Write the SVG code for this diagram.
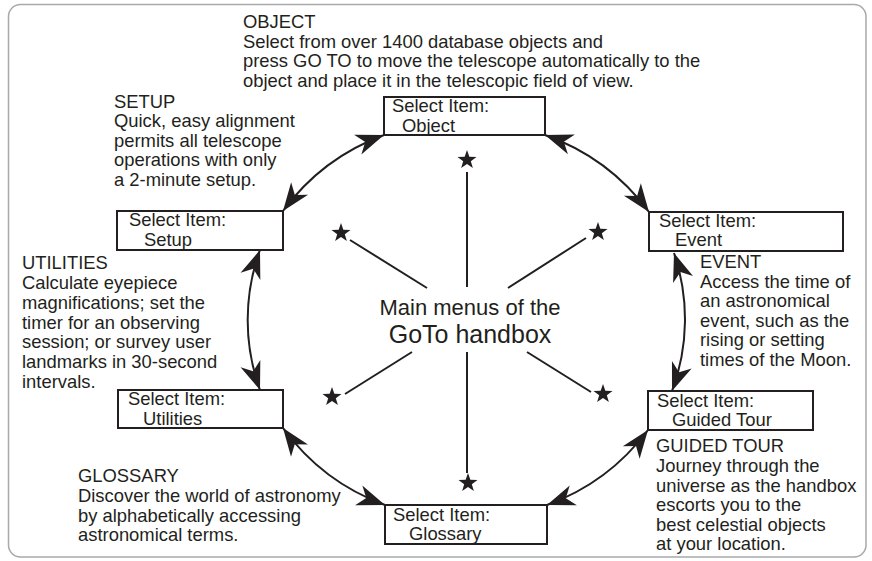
<svg xmlns="http://www.w3.org/2000/svg" width="872" height="561" viewBox="0 0 872 561">
<style>
text{font-family:"Liberation Sans",Arial,Helvetica,sans-serif;font-size:18.4px;fill:#231f20}
.box{fill:#fff;stroke:#231f20;stroke-width:2}
.arc{fill:none;stroke:#231f20;stroke-width:2;marker-start:url(#ah);marker-end:url(#ah)}
.spoke{stroke:#231f20;stroke-width:2}
.star{fill:#231f20}
</style>
<defs>
<marker id="ah" markerUnits="userSpaceOnUse" markerWidth="32" markerHeight="26" viewBox="-30 -13 32 26" refX="0" refY="0" orient="auto-start-reverse">
<path d="M0,0 L-28,-10.5 L-20,0 L-28,10.5 Z" fill="#231f20"/>
</marker>
<path id="st" d="M0,-10 L2.35,-3.24 L9.51,-3.09 L3.8,1.24 L5.88,8.09 L0,4 L-5.88,8.09 L-3.8,1.24 L-9.51,-3.09 L-2.35,-3.24 Z"/>
</defs>
<rect x="8.5" y="4.5" width="857.5" height="552.5" rx="12" fill="#fff" stroke="#a7a9ac" stroke-width="1.5"/>

<g id="connectors">
<path class="arc" d="M283,211 A220,220 0 0 1 384,135"/>
<path class="arc" d="M545,135 A220,220 0 0 1 649,212"/>
<path class="arc" d="M674,253 A205,205 0 0 1 672,391"/>
<path class="arc" d="M648,430 A220,220 0 0 1 547,505"/>
<path class="arc" d="M385,505 A220,220 0 0 1 283,428"/>
<path class="arc" d="M260,390 A205,205 0 0 1 260,250"/>
<line class="spoke" x1="467" y1="172" x2="467" y2="287"/>
<line class="spoke" x1="467" y1="352" x2="467" y2="473"/>
<line class="spoke" x1="350" y1="240" x2="427" y2="288"/>
<line class="spoke" x1="586" y1="238" x2="508" y2="288"/>
<line class="spoke" x1="412" y1="352" x2="345" y2="394"/>
<line class="spoke" x1="527" y1="352" x2="591" y2="392"/>
</g>

<g id="stars" class="star">
<use href="#st" x="467" y="160"/>
<use href="#st" x="341" y="233"/>
<use href="#st" x="598" y="232"/>
<use href="#st" x="332" y="397"/>
<use href="#st" x="603" y="394"/>
<use href="#st" x="468" y="483"/>
</g>

<g id="center">
<text x="470" y="315" text-anchor="middle" style="font-size:22px">Main menus of the</text>
<text x="470" y="343" text-anchor="middle" style="font-size:25px">GoTo handbox</text>
</g>

<g id="node-object">
<rect class="box" x="384" y="97" width="161" height="38"/>
<text x="392" y="112">Select Item:</text>
<text x="402" y="132">Object</text>
</g>
<g id="node-event">
<rect class="box" x="649" y="212" width="194" height="39"/>
<text x="659" y="227">Select Item:</text>
<text x="675" y="246">Event</text>
</g>
<g id="node-setup">
<rect class="box" x="117" y="211" width="166" height="39"/>
<text x="129" y="226">Select Item:</text>
<text x="144" y="246">Setup</text>
</g>
<g id="node-utilities">
<rect class="box" x="118" y="390" width="165" height="38"/>
<text x="128" y="405">Select Item:</text>
<text x="143" y="425">Utilities</text>
</g>
<g id="node-glossary">
<rect class="box" x="385" y="505" width="162" height="39"/>
<text x="393" y="521">Select Item:</text>
<text x="409" y="540">Glossary</text>
</g>
<g id="node-guided">
<rect class="box" x="648" y="391" width="165" height="39"/>
<text x="657" y="407">Select Item:</text>
<text x="672" y="426">Guided Tour</text>
</g>

<g id="desc-object">
<text x="243" y="28">OBJECT</text>
<text x="243" y="47.5">Select from over 1400 database objects and</text>
<text x="243" y="67">press GO TO to move the telescope automatically to the</text>
<text x="243" y="86.5">object and place it in the telescopic field of view.</text>
</g>
<g id="desc-setup">
<text x="114" y="107.5">SETUP</text>
<text x="114" y="127">Quick, easy alignment</text>
<text x="114" y="146.5">permits all telescope</text>
<text x="114" y="166">operations with only</text>
<text x="114" y="185.5">a 2-minute setup.</text>
</g>
<g id="desc-event">
<text x="700" y="268">EVENT</text>
<text x="700" y="288">Access the time of</text>
<text x="700" y="307">an astronomical</text>
<text x="700" y="327">event, such as the</text>
<text x="700" y="346">rising or setting</text>
<text x="700" y="366">times of the Moon.</text>
</g>
<g id="desc-utilities">
<text x="22" y="269">UTILITIES</text>
<text x="22" y="288.5">Calculate eyepiece</text>
<text x="22" y="308.5">magnifications; set the</text>
<text x="22" y="328.5">timer for an observing</text>
<text x="22" y="348">session; or survey user</text>
<text x="22" y="368">landmarks in 30-second</text>
<text x="22" y="387.5">intervals.</text>
</g>
<g id="desc-glossary">
<text x="78" y="482">GLOSSARY</text>
<text x="78" y="502">Discover the world of astronomy</text>
<text x="78" y="522">by alphabetically accessing</text>
<text x="78" y="541">astronomical terms.</text>
</g>
<g id="desc-guided">
<text x="656" y="452">GUIDED TOUR</text>
<text x="656" y="472">Journey through the</text>
<text x="656" y="492">universe as the handbox</text>
<text x="656" y="511">escorts you to the</text>
<text x="656" y="531">best celestial objects</text>
<text x="656" y="550">at your location.</text>
</g>
</svg>
